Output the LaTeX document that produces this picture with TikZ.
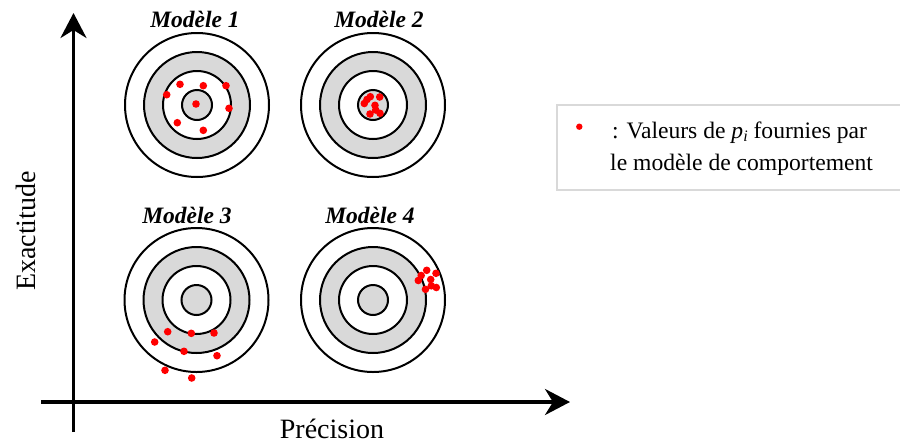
\documentclass[tikz,border=0pt]{standalone}
\usepackage{fontspec}
\setmainfont{Liberation Serif}
\usetikzlibrary{arrows.meta}
\definecolor{ringgray}{HTML}{D9D9D9}
\definecolor{boxgray}{HTML}{D9D9D9}
\newcommand\cible[1]{%
  \draw[ring] (#1) circle[radius=72pt];
  \draw[ring,fill=ringgray] (#1) circle[radius=53pt];
  \draw[ring,fill=white] (#1) circle[radius=34pt];
  \draw[ring,fill=ringgray] (#1) circle[radius=15pt];}
\newcommand\impacts[1]{\foreach \p in {#1} {\fill[red] \p circle[radius=3.8pt];}}
\tikzset{
  ring/.style={draw=black, line width=2pt},
  axisline/.style={line width=3.5pt, -{Stealth[length=25pt,width=26pt,inset=8pt]}},
  modtitle/.style={font=\fontsize{23.5}{28}\selectfont\bfseries\itshape, anchor=base, inner sep=0pt},
  axislabel/.style={font=\fontsize{28}{33}\selectfont, inner sep=0pt},
  legtext/.style={font=\fontsize{23.6}{28}\selectfont, anchor=base west, inner sep=0pt},
}
\begin{document}
\begin{tikzpicture}[x=1pt,y=-1pt]
\useasboundingbox (0,0) rectangle (900,445);
% axes
\coordinate (ybot) at (73.5,432);
\coordinate (ytop) at (73.5,13);
\coordinate (xleft) at (41,402);
\coordinate (xright) at (570,402);
\draw[axisline] (ybot) -- (ytop);
\draw[axisline] (xleft) -- (xright);
\node[axislabel, rotate=90, anchor=base] (ylab) at (35,231) {Exactitude};
\node[axislabel, anchor=base] (xlab) at (332,438) {Précision};
% targets
\coordinate (t1) at (197,105);
\coordinate (t2) at (373,105);
\coordinate (t3) at (196.5,300);
\coordinate (t4) at (373,300);
\cible{t1}\cible{t2}\cible{t3}\cible{t4}
\node[modtitle] (m1) at (195,27) {Modèle 1};
\node[modtitle] (m2) at (379,27) {Modèle 2};
\node[modtitle] (m3) at (187,223) {Modèle 3};
\node[modtitle] (m4) at (370,223) {Modèle 4};
% hits
\impacts{(180,84.3),(203.3,85.7),(226,85.7),(166.7,94.7),(196,104),(229,108.3),(177.3,122.7),(203.3,130.3)}
\impacts{(370.3,96.7),(379.7,97),(367,99.5),(364.3,103.5),(375,105.3),(375.7,110),(370,114),(380,113.3)}
\impacts{(167.7,331.7),(191.3,333.3),(214,333),(154.7,342),(184,351.3),(217,355.7),(165,370.3),(191.7,378)}
\impacts{(426.7,270.3),(436,273.3),(421.2,275.5),(418.3,280.5),(430.7,279.5),(431.3,285.8),(425.5,289.3),(436.3,287.5)}
% legend
\draw[boxgray, line width=1.5pt] (557,105) rectangle (903,190);
\fill[red] (579.3,126.7) circle[radius=3.2pt];
\node[legtext] (l1) at (612,138) {: Valeurs de \textit{p}\raisebox{-0.35ex}{\fontsize{16}{16}\selectfont\textit{i}} fournies par};
\node[legtext] (l2) at (610,170) {le modèle de comportement};
\end{tikzpicture}
\end{document}
